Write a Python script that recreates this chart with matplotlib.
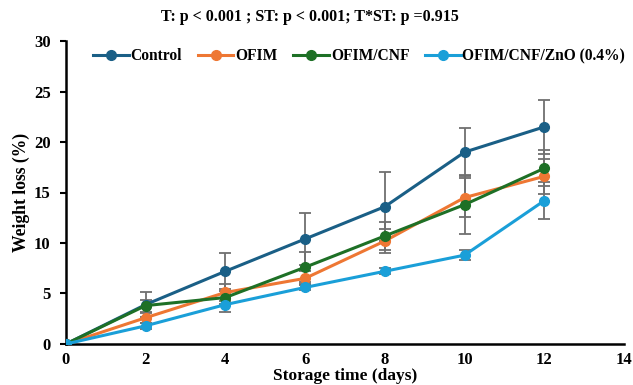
import matplotlib.pyplot as plt
from matplotlib.lines import Line2D

plt.rcParams['font.family'] = ['Liberation Serif', 'DejaVu Serif']
plt.rcParams['font.weight'] = 'bold'

days = [0, 2, 4, 6, 8, 10, 12]
labels = ['Control', 'OFIM', 'OFIM/CNF', 'OFIM/CNF/ZnO (0.4%)']
colors = ['#1a5f86', '#ee7733', '#1e7026', '#1a9fd8']

control = [0, 3.9, 7.2, 10.4, 13.6, 19.0, 21.5]
ofim = [0, 2.6, 5.1, 6.5, 10.2, 14.5, 16.6]
ofim_cnf = [0, 3.8, 4.6, 7.6, 10.7, 13.8, 17.4]
ofim_cnf_zno = [0, 1.8, 3.9, 5.6, 7.2, 8.8, 14.2]

control_err = [0, 1.2, 1.8, 2.6, 3.4, 2.4, 2.7]
ofim_err = [0, 0.5, 0.8, 0.7, 1.2, 1.9, 1.7]
ofim_cnf_err = [0, 0.6, 0.6, 1.5, 1.4, 2.9, 1.8]
ofim_cnf_zno_err = [0, 0.3, 0.7, 0.3, 0.3, 0.5, 1.8]

series = [control, ofim, ofim_cnf, ofim_cnf_zno]
errors = [control_err, ofim_err, ofim_cnf_err, ofim_cnf_zno_err]

fig = plt.figure(figsize=(6.33, 3.85), dpi=100)
ax = fig.add_axes([0.104, 0.1065, 0.882, 0.787])

handles = []
for y, e, c, lab in zip(series, errors, colors, labels):
    ax.errorbar(days, y, yerr=e, color=c, marker='o', markersize=7, linewidth=2.2,
                ecolor='#707070', elinewidth=1.3, capsize=4, capthick=1.3, zorder=3)
    handles.append(Line2D([], [], color=c, marker='o', markersize=7, linewidth=2.2, label=lab))

ax.set_xlim(0, 14)
ax.set_ylim(0, 30)
ax.set_xticks(range(0, 15, 2))
ax.set_yticks(range(0, 31, 5))
ax.spines['top'].set_visible(False)
ax.spines['right'].set_visible(False)
ax.spines['left'].set_linewidth(1.8)
ax.spines['bottom'].set_linewidth(1.8)
ax.tick_params(axis='both', labelsize=12, width=1.5)
ax.tick_params(axis='x', length=0, pad=6)
ax.tick_params(axis='y', length=4, pad=7)
for t in ax.get_xticklabels() + ax.get_yticklabels():
    t.set_fontweight('bold')

ax.set_xlabel('Storage time (days)', fontsize=12.5, fontweight='bold', labelpad=0)
ax.set_ylabel('Weight loss (%)', fontsize=12.7, fontweight='bold', labelpad=3)
fig.text(0.49, 0.955, 'T: p < 0.001 ; ST: p < 0.001; T*ST: p =0.915', ha='center',
         va='center', fontsize=11.5, fontweight='bold')

ax.legend(handles=handles, loc='center left', bbox_to_anchor=(93 / 633, 1 - 56 / 385),
          bbox_transform=fig.transFigure, ncol=4, frameon=False, fontsize=11.2,
          handlelength=2.3, columnspacing=1.0, handletextpad=0.12, borderaxespad=0,
          borderpad=0)

fig.savefig('out.png', dpi=100)
